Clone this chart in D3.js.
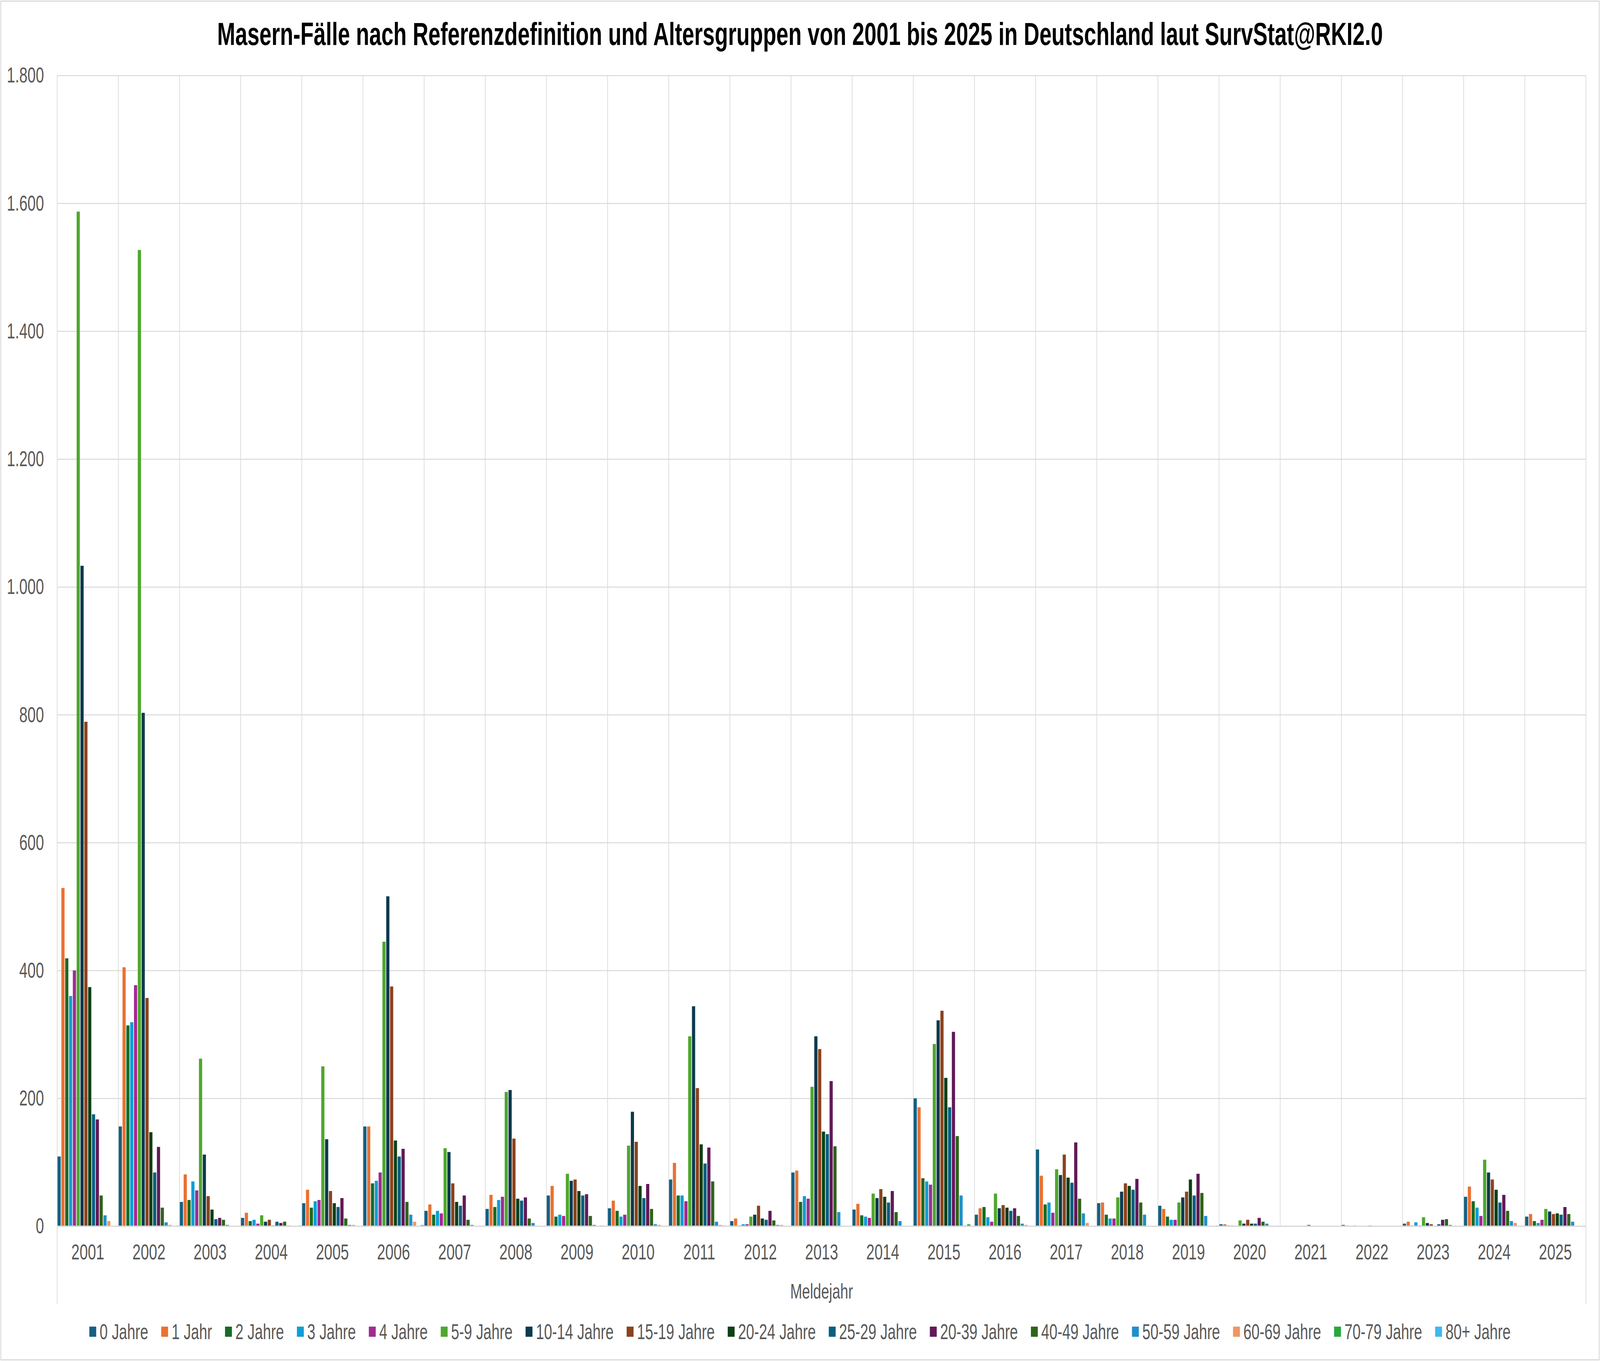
<!DOCTYPE html>
<html>
<head>
<meta charset="utf-8">
<script src="https://cdn.jsdelivr.net/npm/d3@7"></script>
<style>
  html, body { margin: 0; padding: 0; background: #fff; overflow: hidden; }
  svg { display: block; }
  svg text { font-family: "Liberation Sans", Arial, sans-serif; }
</style>
</head>
<body>
<div id="chart"></div>
<script>
// Meldejahre (categories)
var years = ["2001","2002","2003","2004","2005","2006","2007","2008","2009","2010","2011","2012","2013",
             "2014","2015","2016","2017","2018","2019","2020","2021","2022","2023","2024","2025"];

// cases per age group, one value per year
var age0    = [109,156,38,13,36,156,24,27,48,28,73,8,84,26,200,18,120,36,32,3,0,2,4,46,15];
var age1    = [529,405,81,21,57,156,34,49,63,40,99,12,87,35,186,28,79,37,27,3,0,1,7,62,19];
var age2    = [419,314,41,8,29,67,18,30,15,24,48,1,38,17,75,30,34,18,15,1,0,0,1,39,8];
var age3    = [360,319,70,10,39,71,24,41,18,15,48,3,47,15,70,14,37,12,10,1,0,1,6,29,5];
var age4    = [400,377,56,4,41,84,20,46,16,18,39,3,43,13,65,7,21,12,10,0,0,0,1,16,10];
var age5_9  = [1587,1527,262,17,250,445,122,210,82,126,297,15,218,51,285,51,89,45,37,9,0,0,14,104,27];
var age10_14 = [1033,803,112,7,136,516,116,213,71,179,344,18,297,44,322,28,80,54,45,4,0,0,5,84,23];
var age15_19 = [789,357,47,10,55,375,67,137,73,132,216,32,277,58,337,33,112,67,54,10,2,1,3,73,19];
var age20_24 = [374,147,26,1,36,134,38,43,55,63,128,12,148,46,232,29,76,63,73,4,0,0,0,57,20];
var age25_29 = [175,84,11,7,30,109,32,40,48,44,98,10,144,37,186,24,68,57,48,4,0,0,3,37,18];
var age20_39 = [167,124,13,5,44,121,48,45,50,66,123,24,227,55,304,28,131,74,82,13,0,0,10,49,30];
var age40_49 = [48,29,10,7,12,38,10,12,16,27,70,9,125,22,141,16,43,37,52,7,0,0,11,24,19];
var age50_59 = [17,6,2,1,2,18,2,5,2,3,7,2,22,8,48,4,20,18,16,4,0,0,2,8,7];
var age60_69 = [8,2,0,0,2,7,0,0,0,2,2,2,0,0,1,2,5,0,0,0,0,0,0,5,0];
var age70_79 = [0,0,0,0,0,0,0,0,1,0,1,0,0,0,3,0,0,0,0,0,0,0,0,0,0];
var age80   = [0,1,0,1,0,2,0,0,0,0,0,0,0,0,0,0,0,0,1,0,0,0,0,0,0];

var seriesNames = ["0 Jahre","1 Jahr","2 Jahre","3 Jahre","4 Jahre","5-9 Jahre","10-14 Jahre","15-19 Jahre",
                   "20-24 Jahre","25-29 Jahre","20-39 Jahre","40-49 Jahre","50-59 Jahre","60-69 Jahre",
                   "70-79 Jahre","80+ Jahre"];
var seriesValues = [age0, age1, age2, age3, age4, age5_9, age10_14, age15_19, age20_24, age25_29,
                    age20_39, age40_49, age50_59, age60_69, age70_79, age80];
var colors = ["#156082","#E97132","#196B24","#0F9ED5","#A02B93","#4EA72E","#0D3A4E","#8B431E",
              "#0F4016","#095F80","#601A58","#2F641C","#2090C9","#EE9664","#28A83C","#3FB9EF"];

var yTicks = [0,200,400,600,800,1000,1200,1400,1600,1800];

// drawing is laid out in a 6040 x 3483 frame and scaled to whatever the window really is
var W = 6040, H = 3483;
var plotLeft = 216, plotRight = 5987, plotTop = 193, plotBottom = 3138;

var svg = d3.select("#chart").append("svg")
    .attr("width", window.innerWidth || W)
    .attr("height", window.innerHeight || H)
    .attr("viewBox", "0 0 " + W + " " + H)
    .attr("preserveAspectRatio", "none");

// chart border
svg.append("rect")
    .attr("x", 3).attr("y", 3)
    .attr("width", W - 6).attr("height", H - 6)
    .attr("fill", "#fff")
    .attr("stroke", "#D9D9D9")
    .attr("stroke-width", 3);

var x0 = d3.scaleBand().domain(years).range([plotLeft, plotRight]).paddingInner(0).paddingOuter(0);
var x1 = d3.scaleBand().domain(d3.range(seriesNames.length)).range([0, x0.bandwidth()]).padding(0);
var y = d3.scaleLinear().domain([0, 1800]).range([plotBottom, plotTop]);

var de = d3.formatLocale({decimal: ",", thousands: ".", grouping: [3], currency: ["", " €"]});
var fmt = de.format(",d");

// horizontal gridlines + y labels
var yAxis = d3.axisLeft(y).tickValues(yTicks).tickSize(-(plotRight - plotLeft)).tickFormat(fmt).tickPadding(50);
var gy = svg.append("g").attr("transform", "translate(" + plotLeft + ",0)").call(yAxis);
gy.select(".domain").remove();
gy.selectAll(".tick line").attr("stroke", "#D9D9D9").attr("stroke-width", 2.5);
gy.selectAll(".tick text")
    .attr("fill", "#595959")
    .style("font-size", "56px");

// vertical category gridlines
var bounds = years.map(function (d) { return x0(d); }).concat([plotRight]);
svg.append("g").selectAll("line")
    .data(bounds)
    .join("line")
    .attr("x1", function (d) { return d; })
    .attr("x2", function (d) { return d; })
    .attr("y1", plotTop)
    .attr("y2", function (d, i) { return (i === 0 || i === bounds.length - 1) ? 3337 : plotBottom; })
    .attr("stroke", "#D9D9D9")
    .attr("stroke-width", 2.5);

// bars
var groups = svg.append("g").selectAll("g")
    .data(years)
    .join("g")
    .attr("transform", function (d) { return "translate(" + x0(d) + ",0)"; });

groups.selectAll("rect")
    .data(function (d, yi) {
        return seriesValues.map(function (s, si) { return {si: si, v: s[yi]}; });
    })
    .join("rect")
    .attr("x", function (d) { return x1(d.si) + 1.2; })
    .attr("width", x1.bandwidth() - 2.4)
    .attr("y", function (d) { return y(d.v); })
    .attr("height", function (d) { return plotBottom - y(d.v); })
    .attr("fill", function (d) { return colors[d.si]; });

// x axis line
svg.append("line")
    .attr("x1", plotLeft).attr("x2", plotRight)
    .attr("y1", plotBottom).attr("y2", plotBottom)
    .attr("stroke", "#D9D9D9")
    .attr("stroke-width", 3);

// year labels
var xAxis = d3.axisBottom(x0).tickSize(0).tickPadding(45);
var gx = svg.append("g").attr("transform", "translate(0," + plotBottom + ")").call(xAxis);
gx.select(".domain").remove();
gx.selectAll(".tick text")
    .attr("fill", "#595959")
    .style("font-size", "56px");

// axis title
svg.append("text")
    .attr("x", (plotLeft + plotRight) / 2)
    .attr("y", 3323)
    .style("font-size", "54px")
    .style("text-anchor", "middle")
    .attr("fill", "#595959")
    .text("Meldejahr");

// title
svg.append("text")
    .attr("x", W / 2)
    .attr("y", 115)
    .style("font-size", "82px")
    .style("font-weight", "bold")
    .style("text-anchor", "middle")
    .attr("fill", "#000")
    .text("Masern-Fälle nach Referenzdefinition und Altersgruppen von 2001 bis 2025 in Deutschland laut SurvStat@RKI2.0");

// legend
var legend = svg.append("g");
var items = legend.selectAll("g")
    .data(seriesNames)
    .join("g");
items.append("rect")
    .attr("width", 26)
    .attr("height", 26)
    .attr("y", -13)
    .attr("fill", function (d, i) { return colors[i]; });
items.append("text")
    .attr("x", 39)
    .attr("y", 19)
    .style("font-size", "55px")
    .attr("fill", "#595959")
    .text(function (d) { return d; });

var xpos = 0;
items.each(function () {
    var g = d3.select(this);
    g.attr("transform", "translate(" + xpos + ",0)");
    xpos += 39 + g.select("text").node().getComputedTextLength() + 49;
});
var totalW = xpos - 49;
legend.attr("transform", "translate(" + (W / 2 - totalW / 2) + ",3408)");
</script>
</body>
</html>
